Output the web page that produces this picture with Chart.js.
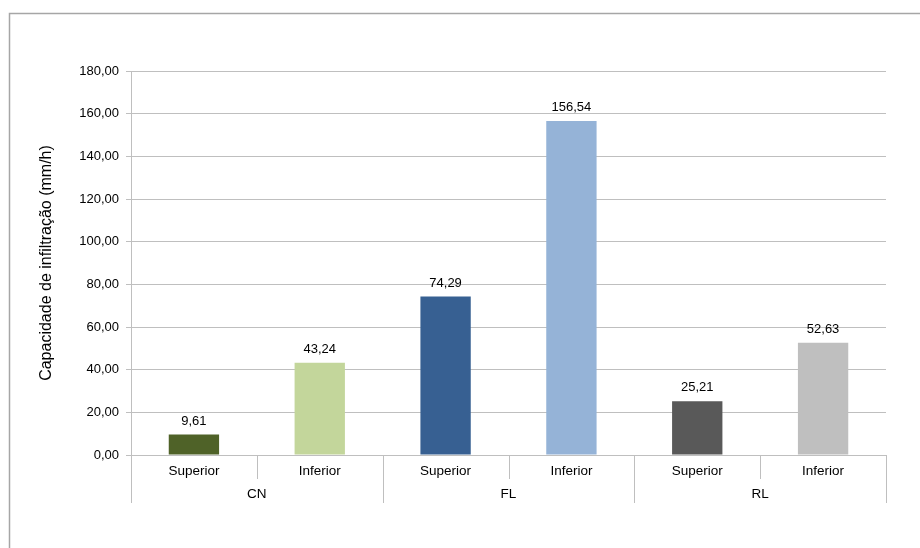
<!DOCTYPE html>
<html>
<head>
<meta charset="utf-8">
<script src="https://cdn.jsdelivr.net/npm/chart.js@4"></script>
<style>
  html, body { margin: 0; padding: 0; background: #fff; }
  #wrap { width: 920px; height: 548px; position: relative; }
</style>
</head>
<body>
<div id="wrap"><canvas id="infiltracao"></canvas></div>
<script>
// Infiltration capacity per site and layer
const sites = ['CN', 'FL', 'RL'];
const layers = ['Superior', 'Inferior'];
const values = [9.61, 43.24, 74.29, 156.54, 25.21, 52.63];
const barColors = ['#4F6228', '#C3D69B', '#376092', '#95B3D7', '#595959', '#BFBFBF'];
const yTicks = [0, 20, 40, 60, 80, 100, 120, 140, 160, 180];

const labels = [];
sites.forEach(() => layers.forEach(l => labels.push(l)));

const fontFamily = '"Liberation Sans", Arial, sans-serif';
const axisGray = '#BFBFBF';

function formatNum(v) {
    return v.toFixed(2).replace('.', ',');
}

// Frame around the whole chart (top and left edges)
const frame = {
    id: 'frame',
    beforeDraw(chart) {
        const ctx = chart.ctx;
        ctx.save();
        ctx.strokeStyle = '#A6A6A6';
        ctx.lineWidth = 1.5;
        ctx.beginPath();
        ctx.moveTo(9.5, chart.height);
        ctx.lineTo(9.5, 13.5);
        ctx.lineTo(chart.width, 13.5);
        ctx.stroke();
        ctx.restore();
    }
};

// Value labels above each bar
const valueLabels = {
    id: 'valueLabels',
    afterDatasetsDraw(chart) {
        const ctx = chart.ctx;
        const meta = chart.getDatasetMeta(0);
        ctx.save();
        ctx.font = '13px ' + fontFamily;
        ctx.fillStyle = '#000';
        ctx.textAlign = 'center';
        ctx.textBaseline = 'bottom';
        meta.data.forEach((bar, i) => {
            ctx.fillText(formatNum(values[i]), bar.x, bar.y - 7);
        });
        ctx.restore();
    }
};

// Two-level category axis: layer separators and site names
const groupAxis = {
    id: 'groupAxis',
    afterDraw(chart) {
        const ctx = chart.ctx;
        const x = chart.scales.x;
        const bottom = chart.chartArea.bottom;
        const step = (x.right - x.left) / labels.length;
        ctx.save();
        ctx.strokeStyle = axisGray;
        ctx.lineWidth = 1;
        for (let i = 0; i <= labels.length; i++) {
            const px = Math.round(x.getPixelForValue(i) - step / 2) + 0.5;
            const isGroupEdge = i % layers.length === 0;
            ctx.beginPath();
            ctx.moveTo(px, bottom);
            ctx.lineTo(px, bottom + (isGroupEdge ? 48 : 24));
            ctx.stroke();
        }
        ctx.font = '13.5px ' + fontFamily;
        ctx.fillStyle = '#000';
        ctx.textAlign = 'center';
        ctx.textBaseline = 'middle';
        sites.forEach((s, g) => {
            const a = x.getPixelForValue(g * layers.length);
            const b = x.getPixelForValue(g * layers.length + layers.length - 1);
            ctx.fillText(s, (a + b) / 2, bottom + 39);
        });
        ctx.restore();
    }
};

new Chart(document.getElementById('infiltracao'), {
    type: 'bar',
    data: {
        labels: labels,
        datasets: [{
            data: values,
            backgroundColor: barColors,
            borderWidth: 0,
            barPercentage: 0.8,
            categoryPercentage: 0.5
        }]
    },
    options: {
        responsive: true,
        maintainAspectRatio: false,
        animation: false,
        layout: { padding: { top: 71, right: 34, bottom: 43, left: 0 } },
        plugins: {
            legend: { display: false },
            tooltip: { enabled: false }
        },
        scales: {
            x: {
                afterFit(scale) { scale.height = 50; },
                border: { display: false },
                grid: { display: false, drawTicks: false },
                ticks: {
                    color: '#000',
                    padding: 8,
                    font: { family: fontFamily, size: 13.5 },
                    maxRotation: 0
                }
            },
            y: {
                min: 0,
                max: 180,
                afterFit(scale) { scale.width = 131; },
                afterBuildTicks(scale) { scale.ticks = yTicks.map(v => ({ value: v })); },
                border: { display: true, color: axisGray },
                grid: { color: axisGray, tickLength: 5, tickColor: axisGray },
                ticks: {
                    color: '#000',
                    padding: 7,
                    font: { family: fontFamily, size: 13 },
                    callback: v => formatNum(v)
                },
                title: {
                    display: true,
                    text: 'Capacidade de infiltração (mm/h)',
                    color: '#000',
                    font: { family: fontFamily, size: 16 },
                    padding: { top: 37, bottom: 0 }
                }
            }
        }
    },
    plugins: [frame, valueLabels, groupAxis]
});
</script>
</body>
</html>
